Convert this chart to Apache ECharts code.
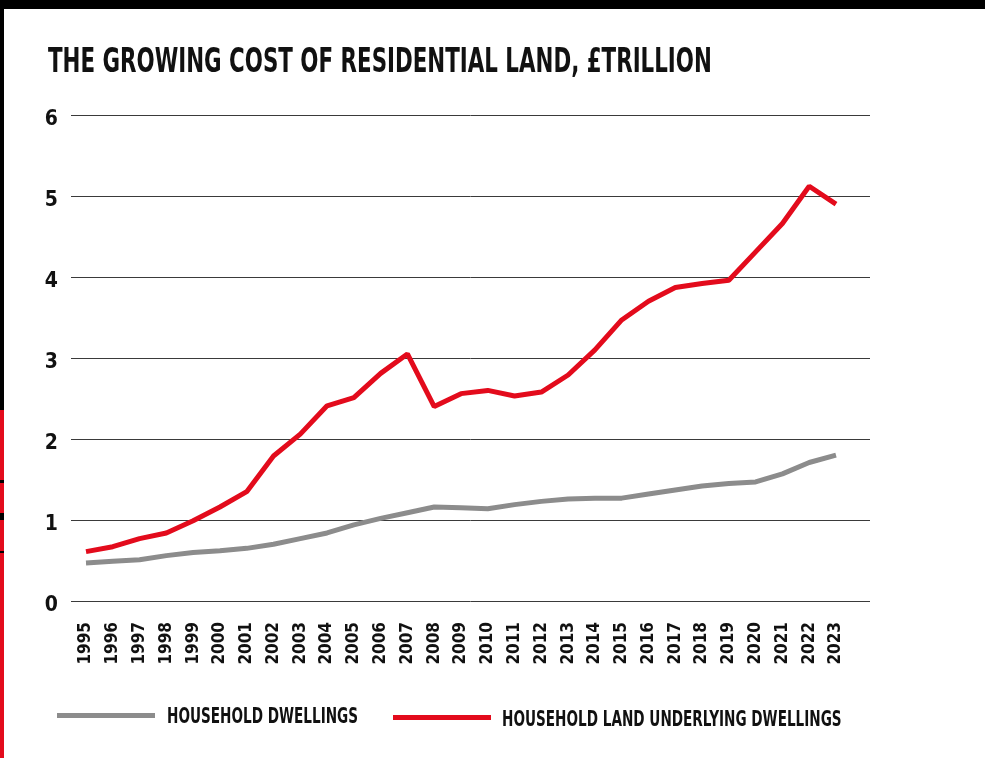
<!DOCTYPE html>
<html>
<head>
<meta charset="utf-8">
<title>The growing cost of residential land</title>
<script src="https://cdn.jsdelivr.net/npm/echarts@6/dist/echarts.min.js"></script>
<style>
  html, body { margin: 0; padding: 0; background: #ffffff; }
  #chart { width: 985px; height: 758px; }
</style>
</head>
<body>
<div id="chart"></div>
<script>
// Years on the horizontal axis
var years = ['1995','1996','1997','1998','1999','2000','2001','2002','2003','2004',
             '2005','2006','2007','2008','2009','2010','2011','2012','2013','2014',
             '2015','2016','2017','2018','2019','2020','2021','2022','2023'];

// Value of household dwellings, £ trillion
var dwellings = [0.47, 0.49, 0.51, 0.56, 0.60, 0.62, 0.65, 0.70, 0.77, 0.84,
                 0.94, 1.02, 1.09, 1.16, 1.15, 1.14, 1.19, 1.23, 1.26, 1.27,
                 1.27, 1.32, 1.37, 1.42, 1.45, 1.47, 1.57, 1.71, 1.80];

// Value of household land underlying dwellings, £ trillion
var land = [0.61, 0.67, 0.77, 0.84, 0.99, 1.16, 1.35, 1.79, 2.06, 2.41,
            2.51, 2.81, 3.05, 2.40, 2.56, 2.60, 2.53, 2.58, 2.79, 3.10,
            3.47, 3.70, 3.87, 3.92, 3.96, 4.31, 4.66, 5.12, 4.90];

var yTicks = [0, 1, 2, 3, 4, 5, 6];

var seriesNames = ['HOUSEHOLD DWELLINGS', 'HOUSEHOLD LAND UNDERLYING DWELLINGS'];
var titleText = 'THE GROWING COST OF RESIDENTIAL LAND, £TRILLION';

var FONT = '"DejaVu Sans Condensed", "Liberation Sans Narrow", sans-serif';
var RED = '#e30b1c';
var GREY = '#8c8c8c';
var INK = '#111111';
// horizontal squeeze giving the heavy condensed headline look
var SQUEEZE = 0.72;

var chart = echarts.init(document.getElementById('chart'), null, { renderer: 'canvas' });

function squeezedText(x, y, text, size, vAlign) {
  return {
    type: 'text', x: x, y: y, scaleX: SQUEEZE, scaleY: 1, silent: true,
    style: {
      text: text,
      font: 'bold ' + size + 'px ' + FONT,
      fill: INK,
      verticalAlign: vAlign || 'top'
    }
  };
}

var legendBase = {
  icon: 'rect',
  itemWidth: 98,
  itemHeight: 5,
  formatter: function () { return ''; },
  textStyle: { fontSize: 1 }
};

var option = {
  backgroundColor: '#ffffff',
  animation: false,
  graphic: [
    // frame strips along the top and left edges
    { type: 'rect', left: 0, top: 0, shape: { width: 985, height: 9 }, style: { fill: '#000' }, silent: true },
    { type: 'rect', left: 0, top: 0, shape: { width: 4, height: 410 }, style: { fill: '#000' }, silent: true },
    { type: 'rect', left: 0, top: 410, shape: { width: 4, height: 348 }, style: { fill: RED }, silent: true },
    { type: 'rect', left: 0, top: 480, shape: { width: 4, height: 3 }, style: { fill: '#000' }, silent: true },
    { type: 'rect', left: 0, top: 513, shape: { width: 4, height: 7 }, style: { fill: '#000' }, silent: true },
    { type: 'rect', left: 0, top: 551, shape: { width: 4, height: 2 }, style: { fill: '#000' }, silent: true },
    // chart heading
    squeezedText(48, 63, titleText, 33, 'middle'),
    // legend captions
    squeezedText(167, 718, seriesNames[0], 21, 'middle'),
    squeezedText(502, 721, seriesNames[1], 21, 'middle')
  ],
  legend: [
    Object.assign({ data: [seriesNames[0]], left: 52, top: 708 }, legendBase),
    Object.assign({ data: [seriesNames[1]], left: 388, top: 710 }, legendBase)
  ],
  grid: [
    // wide grid carrying the horizontal rules and value labels
    { left: 71, right: 115, top: 115, bottom: 157 },
    // inner grid carrying the series and year labels
    { left: 86, right: 149, top: 115, bottom: 157 }
  ],
  xAxis: [
    {
      gridIndex: 0, type: 'category', data: years, boundaryGap: false,
      show: false
    },
    {
      gridIndex: 1, type: 'category', data: years, boundaryGap: false,
      axisLine: { show: false },
      axisTick: { show: false },
      axisLabel: {
        interval: 0,
        rotate: 90,
        margin: 21,
        fontFamily: FONT,
        fontWeight: 'bold',
        fontSize: 17,
        color: INK
      },
      splitLine: { show: false }
    }
  ],
  yAxis: [
    {
      gridIndex: 0, type: 'value', min: yTicks[0], max: yTicks[yTicks.length - 1], interval: 1,
      axisLine: { show: false },
      axisTick: { show: false },
      axisLabel: {
        margin: 13,
        formatter: '{v|{value}}',
        rich: {
          v: {
            padding: [10, 0, 0, 0],
            fontFamily: FONT,
            fontWeight: 'bold',
            fontSize: 21,
            color: INK
          }
        }
      },
      splitLine: { show: true, lineStyle: { color: '#3a3a3a', width: 1 } }
    },
    {
      gridIndex: 1, type: 'value', min: yTicks[0], max: yTicks[yTicks.length - 1], interval: 1,
      show: false,
      splitLine: { show: false }
    }
  ],
  series: [
    {
      name: seriesNames[0],
      type: 'line',
      xAxisIndex: 1, yAxisIndex: 1,
      data: dwellings,
      symbol: 'none',
      lineStyle: { color: GREY, width: 5 },
      itemStyle: { color: GREY },
      z: 3
    },
    {
      name: seriesNames[1],
      type: 'line',
      xAxisIndex: 1, yAxisIndex: 1,
      data: land,
      symbol: 'none',
      lineStyle: { color: RED, width: 5 },
      itemStyle: { color: RED },
      z: 4
    }
  ]
};

chart.setOption(option);
</script>
</body>
</html>
